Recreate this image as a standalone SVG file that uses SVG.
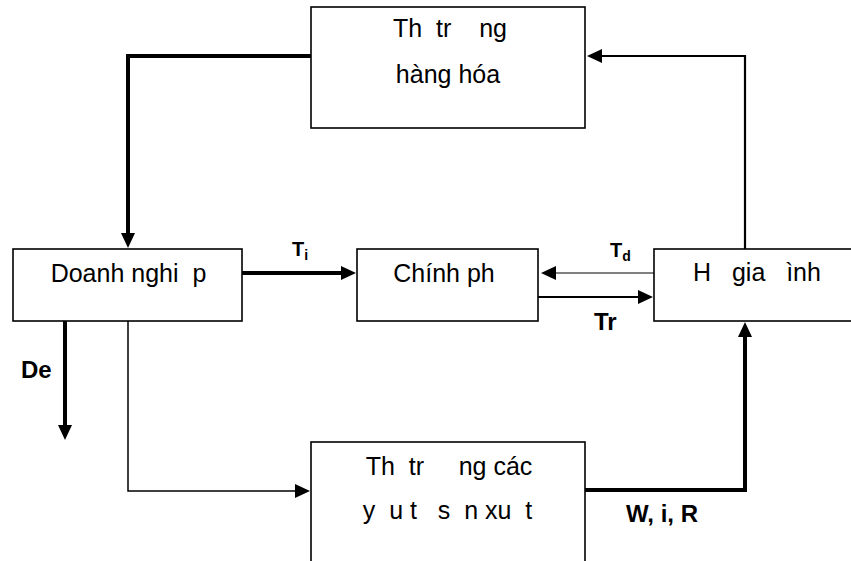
<svg xmlns="http://www.w3.org/2000/svg" width="851" height="561" viewBox="0 0 851 561">
<style>
.box{fill:#fff;stroke:#000;stroke-width:1.6}
.t{font-family:"Liberation Sans",Arial,sans-serif;font-size:25px;fill:#000;white-space:pre}
.m{text-anchor:middle}
.b{font-family:"Liberation Sans",Arial,sans-serif;font-weight:bold;fill:#000}
.c{fill:none;stroke:#000}
.w4{stroke-width:4}
.w2{stroke-width:2.2}
.w1{stroke-width:1}
.w15{stroke-width:1.5}
</style>
<defs>
<marker id="ah" markerUnits="userSpaceOnUse" markerWidth="16" markerHeight="14" refX="6" refY="7" orient="auto">
<path d="M0,0 L15,7 L0,14 z" fill="#000"/>
</marker>
</defs>
<g id="node-thi-truong-hang-hoa">
<rect class="box" x="311" y="7" width="274" height="121"/>
<text class="t m" x="450" y="37" xml:space="preserve">Th  tr    ng</text>
<text class="t m" x="448" y="83">hàng hóa</text>
</g>
<g id="node-doanh-nghiep">
<rect class="box" x="13" y="249" width="229" height="72"/>
<text class="t m" x="128.5" y="282" xml:space="preserve">Doanh nghi  p</text>
</g>
<g id="node-chinh-phu">
<rect class="box" x="357" y="249" width="181" height="72"/>
<text class="t m" x="444" y="282">Chính ph</text>
</g>
<g id="node-ho-gia-dinh">
<rect class="box" x="654" y="249" width="220" height="72"/>
<text class="t m" x="757" y="281" xml:space="preserve">H   gia   ình</text>
</g>
<g id="node-thi-truong-yeu-to">
<rect class="box" x="311" y="442" width="274" height="140"/>
<text class="t m" x="449" y="475" xml:space="preserve">Th  tr     ng các</text>
<text class="t m" x="447.5" y="519" xml:space="preserve">y  u t   s  n xu  t</text>
</g>
<g id="connectors">
<path class="c w4" d="M311,56 H128 V239" marker-end="url(#ah)"/>
<path class="c w2" d="M745,249 V56 H596" marker-end="url(#ah)"/>
<path class="c w4" d="M242,273 H347" marker-end="url(#ah)"/>
<path class="c w1" d="M654,273 H550" marker-end="url(#ah)"/>
<path class="c w2" d="M538,297 H644" marker-end="url(#ah)"/>
<path class="c w4" d="M65,321 V431" marker-end="url(#ah)"/>
<path class="c w15" d="M128,321 V491 H301" marker-end="url(#ah)"/>
<path class="c w4" d="M585,490 H745 V331" marker-end="url(#ah)"/>
</g>
<g id="labels">
<text class="b" x="292" y="256" font-size="20">T<tspan font-size="14" dy="4">i</tspan></text>
<text class="b" x="610" y="257" font-size="20">T<tspan font-size="14" dy="4">d</tspan></text>
<text class="b" x="594" y="330" font-size="24">Tr</text>
<text class="b" x="21" y="378" font-size="24">De</text>
<text class="b" x="626" y="522" font-size="24">W, i, R</text>
</g>
</svg>
